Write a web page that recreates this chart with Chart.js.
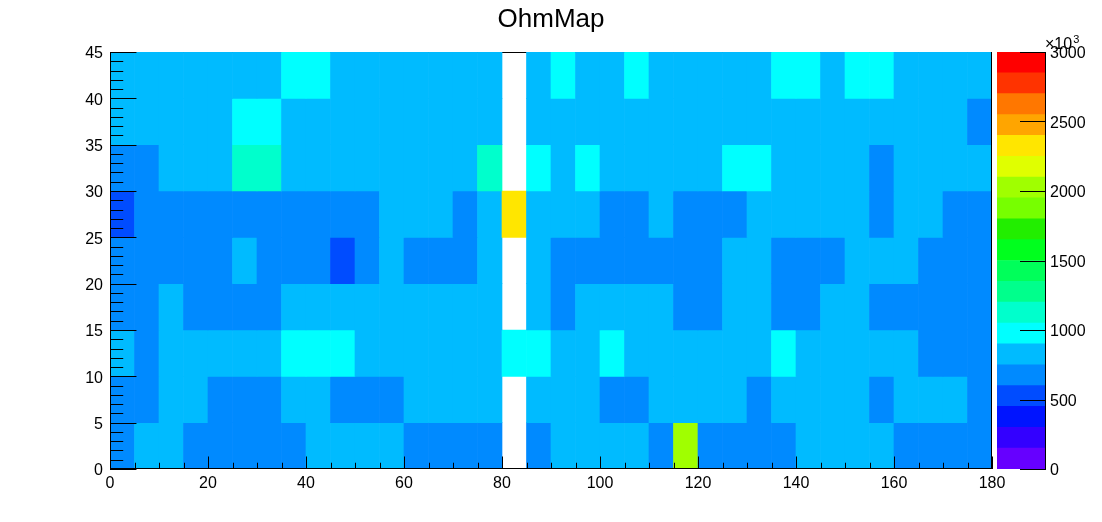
<!DOCTYPE html>
<html>
<head>
<meta charset="utf-8">
<script src="https://cdn.jsdelivr.net/npm/chart.js@4.4.1/dist/chart.umd.min.js"></script>
<style>
  html, body { margin: 0; padding: 0; background: #fff; }
  #wrap { position: relative; width: 1102px; height: 522px; }
  #wrap canvas { position: absolute; left: 0; top: 0; }
</style>
</head>
<body>
<div id="wrap">
  <canvas id="ohmMap" width="1102" height="522"></canvas>
  <canvas id="palette" width="1102" height="522"></canvas>
</div>
<script>
const TITLE = 'OhmMap';

// binning of the 2D histogram
const X_MIN = 0, X_MAX = 180, BIN_W = 5;
const Y_MIN = 0, Y_MAX = 45, BIN_H = 5;

// z range / contours of the colour palette
const Z_MIN = 0, Z_MAX = 3000, N_CONTOURS = 20;
const Z_TICKS = [0, 500, 1000, 1500, 2000, 2500, 3000];

// one array per y row (y = 0-5, 5-10, ...), 36 x bins each, 0 = empty bin
const OHM_Y00 = [680,820,820,680,680,680,680,680,820,820,820,820,680,680,680,680,0,680,820,820,820,820,680,2020,680,680,680,680,820,820,820,820,680,680,680,680];
const OHM_Y05 = [680,680,820,820,680,680,680,820,820,680,680,680,820,820,820,820,0,820,820,820,680,680,820,820,820,820,680,820,820,820,820,680,820,820,820,680];
const OHM_Y10 = [820,680,820,820,820,820,820,970,970,970,820,820,820,820,820,820,970,970,820,820,970,820,820,820,820,820,820,970,820,820,820,820,820,680,680,680];
const OHM_Y15 = [680,680,820,680,680,680,680,820,820,820,820,820,820,820,820,820,0,820,680,820,820,820,820,680,680,820,820,680,680,820,820,680,680,680,680,680];
const OHM_Y20 = [680,680,680,680,680,820,680,680,680,520,680,820,680,680,680,820,0,820,680,680,680,680,680,680,680,820,820,680,680,680,820,820,820,680,680,680];
const OHM_Y25 = [520,680,680,680,680,680,680,680,680,680,680,820,820,820,680,820,2330,820,820,820,680,680,820,680,680,680,820,820,820,820,820,680,820,820,680,680];
const OHM_Y30 = [680,680,820,820,820,1120,1120,820,820,820,820,820,820,820,820,1120,0,970,820,970,820,820,820,820,820,970,970,820,820,820,820,680,820,820,820,820];
const OHM_Y35 = [820,820,820,820,820,970,970,820,820,820,820,820,820,820,820,820,0,820,820,820,820,820,820,820,820,820,820,820,820,820,820,820,820,820,820,680];
const OHM_Y40 = [820,820,820,820,820,820,820,970,970,820,820,820,820,820,820,820,0,820,970,820,820,970,820,820,820,820,820,970,970,820,970,970,820,820,820,820];
const OHM_ROWS = [OHM_Y00, OHM_Y05, OHM_Y10, OHM_Y15, OHM_Y20, OHM_Y25, OHM_Y30, OHM_Y35, OHM_Y40];

// rainbow palette, low to high
const PALETTE = [
  '#6600ff', '#3300ff', '#0014ff', '#004cff', '#008aff',
  '#00bbff', '#00ffff', '#00ffcc', '#00ff8c', '#00ff5a',
  '#00ff1e', '#22ee00', '#77ff00', '#a0ff00', '#e0ff00',
  '#ffe600', '#ffa500', '#ff7700', '#ff3300', '#ff0000'
];

const FONT = 'Liberation Sans, Arial, Helvetica, sans-serif';

function colorFor(v) {
  let k = Math.floor((v - Z_MIN) / (Z_MAX - Z_MIN) * N_CONTOURS);
  k = Math.max(0, Math.min(N_CONTOURS - 1, k));
  return PALETTE[k];
}

// build floating bars, one per filled bin
const cells = [];
const cellColors = [];
OHM_ROWS.forEach((row, j) => {
  row.forEach((v, i) => {
    if (v <= 0) return;
    cells.push({ x: X_MIN + (i + 0.5) * BIN_W, y: [Y_MIN + j * BIN_H, Y_MIN + (j + 1) * BIN_H] });
    cellColors.push(colorFor(v));
  });
});

// ROOT style frame with inward ticks
const rootFrame = {
  id: 'rootFrame',
  beforeDatasetsDraw(chart) {
    const { ctx, chartArea: a } = chart;
    ctx.save();
    ctx.strokeStyle = '#000';
    ctx.lineWidth = 1;
    ctx.beginPath();
    ctx.moveTo(a.left, a.top + 0.5);
    ctx.lineTo(a.right, a.top + 0.5);
    ctx.stroke();
    ctx.restore();
  },
  afterDatasetsDraw(chart) {
    const { ctx, chartArea: a, scales: { x, y } } = chart;
    ctx.save();
    ctx.strokeStyle = '#000';
    ctx.lineWidth = 1;
    ctx.beginPath();
    ctx.moveTo(a.left + 0.5, a.top);
    ctx.lineTo(a.left + 0.5, a.bottom);
    ctx.moveTo(a.left, a.bottom - 0.5);
    ctx.lineTo(a.right, a.bottom - 0.5);
    ctx.moveTo(a.right - 0.5, a.top);
    ctx.lineTo(a.right - 0.5, a.bottom);
    const xLen = a.height * 0.03, yLen = a.width * 0.03;
    for (let v = X_MIN; v <= X_MAX; v += 5) {
      const px = Math.round(x.getPixelForValue(v)) + 0.5;
      const len = v % 20 === 0 ? xLen : xLen / 2;
      ctx.moveTo(px, a.bottom);
      ctx.lineTo(px, a.bottom - len);
    }
    for (let v = Y_MIN; v <= Y_MAX; v += 1) {
      const py = Math.round(y.getPixelForValue(v)) + 0.5;
      const len = v % 5 === 0 ? yLen : yLen / 2;
      ctx.moveTo(a.left, py);
      ctx.lineTo(a.left + len, py);
    }
    ctx.stroke();
    ctx.restore();
  }
};

new Chart(document.getElementById('ohmMap'), {
  type: 'bar',
  data: {
    datasets: [{
      data: cells,
      backgroundColor: cellColors,
      borderWidth: 0,
      barPercentage: 1,
      categoryPercentage: 1
    }]
  },
  options: {
    responsive: false,
    animation: false,
    events: [],
    layout: { padding: 0 },
    plugins: {
      legend: { display: false },
      tooltip: { enabled: false },
      title: {
        display: true,
        text: TITLE,
        color: '#000',
        font: { family: FONT, size: 26, weight: 'normal' },
        padding: { top: 4.5, bottom: 16.3 }
      }
    },
    scales: {
      x: {
        type: 'linear',
        min: X_MIN,
        max: X_MAX,
        offset: false,
        grid: { display: false, drawTicks: false },
        border: { display: false },
        ticks: {
          stepSize: 20,
          autoSkip: false,
          maxRotation: 0,
          padding: 5,
          color: '#000',
          font: { family: FONT, size: 16 },
          callback: v => String(v)
        },
        afterFit(scale) { scale.height = 53; }
      },
      y: {
        min: Y_MIN,
        max: Y_MAX,
        grid: { display: false, drawTicks: false },
        border: { display: false },
        ticks: {
          stepSize: 5,
          autoSkip: false,
          padding: 7,
          labelOffset: 2,
          color: '#000',
          font: { family: FONT, size: 16 },
          callback: v => String(v)
        },
        afterFit(scale) { scale.width = 110; }
      },
      // empty right margin that holds the palette
      yRight: {
        position: 'right',
        min: 0,
        max: 1,
        grid: { display: false, drawTicks: false },
        border: { display: false },
        ticks: { display: false },
        afterFit(scale) { scale.width = 110; }
      }
    }
  },
  plugins: [rootFrame]
});

// colour palette on the right
const paletteAxis = {
  id: 'paletteAxis',
  afterDatasetsDraw(chart) {
    const { ctx, chartArea: a, scales: { y } } = chart;
    ctx.save();
    ctx.strokeStyle = '#000';
    ctx.lineWidth = 1;
    ctx.beginPath();
    ctx.moveTo(a.right - 0.5, a.top);
    ctx.lineTo(a.right - 0.5, a.bottom);
    const len = 26;
    Z_TICKS.forEach(v => {
      const py = Math.round(y.getPixelForValue(v)) + 0.5;
      ctx.moveTo(a.right, py);
      ctx.lineTo(a.right - len, py);
    });
    ctx.stroke();
    ctx.fillStyle = '#000';
    ctx.textBaseline = 'alphabetic';
    ctx.textAlign = 'left';
    ctx.font = '16px ' + FONT;
    ctx.fillText('\u00d710', a.right - 1, a.top - 3);
    const w = ctx.measureText('\u00d710').width;
    ctx.font = '11px ' + FONT;
    ctx.fillText('3', a.right - 1 + w + 1, a.top - 9);
    ctx.restore();
  }
};

const contourStep = (Z_MAX - Z_MIN) / N_CONTOURS;
new Chart(document.getElementById('palette'), {
  type: 'bar',
  data: {
    labels: ['z'],
    datasets: PALETTE.map(c => ({
      data: [contourStep],
      backgroundColor: c,
      borderWidth: 0,
      barPercentage: 1,
      categoryPercentage: 1
    }))
  },
  options: {
    responsive: false,
    animation: false,
    events: [],
    layout: { padding: { left: 997, right: 0, top: 52, bottom: 53 } },
    plugins: { legend: { display: false }, tooltip: { enabled: false } },
    scales: {
      x: { stacked: true, display: false },
      y: {
        stacked: true,
        position: 'right',
        min: Z_MIN,
        max: Z_MAX,
        grid: { display: false, drawTicks: false },
        border: { display: false },
        ticks: {
          stepSize: 500,
          autoSkip: false,
          padding: 4,
          labelOffset: 2,
          color: '#000',
          font: { family: FONT, size: 16 },
          callback: v => String(v)
        },
        afterFit(scale) { scale.width = 56; }
      }
    }
  },
  plugins: [paletteAxis]
});
</script>
</body>
</html>
